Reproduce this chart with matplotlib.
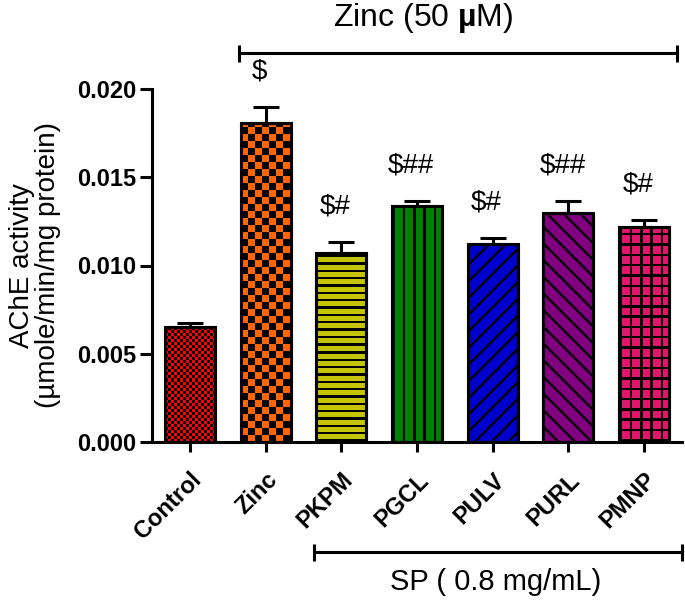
import matplotlib
matplotlib.use('Agg')
import matplotlib.pyplot as plt
import numpy as np
from matplotlib.lines import Line2D
from matplotlib.colors import to_rgba

categories = ['Control', 'Zinc', 'PKPM', 'PGCL', 'PULV', 'PURL', 'PMNP']
means = [0.00652, 0.01807, 0.01071, 0.01337, 0.01122, 0.01297, 0.01218]
sems = [0.00022, 0.00091, 0.00062, 0.00028, 0.00034, 0.00068, 0.00040]
marks = ['', '$', '$#', '$##', '$#', '$##', '$#']
colors = ['#ff0000', '#ff6600', '#c4c400', '#008000', '#0000cc', '#800080', '#e0156b']
yticks = [0.000, 0.005, 0.010, 0.015, 0.020]
top_label = 'Zinc (50 $\\mathbf{µ}$M)'
bottom_label = 'SP ( 0.8 mg/mL)'
ylabel = 'AChE activity\n(µmole/min/mg protein)'

plt.rcParams['font.family'] = ['Liberation Sans', 'DejaVu Sans']
plt.rcParams['mathtext.fontset'] = 'custom'
plt.rcParams['mathtext.rm'] = 'Liberation Sans'
plt.rcParams['mathtext.bf'] = 'Liberation Sans:bold'
plt.rcParams['hatch.linewidth'] = 1.6

W, H = 685, 600
fig = plt.figure(figsize=(W / 100, H / 100), dpi=100)
ax = fig.add_axes([152 / W, 1 - 442 / H, 530 / W, 353 / H])
x = np.arange(len(categories))
bw = 0.66
hatches = [None, None, None, None, '//', '\\\\', None]
bars = ax.bar(x, means, width=bw, color=colors, edgecolor='black', linewidth=2.2, zorder=2)
for b, h in zip(bars, hatches):
    if h:
        b.set_hatch(h)
ax.set_xlim(-0.5, len(categories) - 0.5)
ax.set_ylim(yticks[0], yticks[-1])
pxx = 530 / len(categories)
pxy = 353 / (yticks[-1] - yticks[0])


def texture(bar, kind, size, color, lw=2.6):
    x0 = bar.get_x(); w = bar.get_width(); h = bar.get_height()
    nx = int(np.ceil(w * pxx)); ny = int(np.ceil(h * pxy))
    cols = np.arange(nx)[None, :] + np.zeros((ny, 1))
    rows = np.arange(ny)[:, None] + np.zeros((1, nx))
    if kind == 'checker':
        mask = ((cols // size + rows // size) % 2 == 0)
    elif kind == 'vstripes':
        mask = np.mod(cols, size) < lw
    elif kind == 'hstripes':
        mask = np.mod(rows, size) < lw
    else:
        mask = (np.mod(cols, size) < lw) | (np.mod(rows, size) < lw)
    img = np.zeros((ny, nx, 4))
    img[...] = to_rgba(color)
    img[mask] = (0, 0, 0, 1)
    im = ax.imshow(img, extent=(x0, x0 + nx / pxx, 0, ny / pxy), origin='lower',
                   aspect='auto', interpolation='nearest', zorder=2.1)
    im.set_clip_path(bar)


texture(bars[0], 'checker', 3, colors[0])
texture(bars[1], 'checker', 7, colors[1])
texture(bars[2], 'hstripes', 7.33, colors[2], lw=2.2)
texture(bars[3], 'vstripes', 10.3, colors[3])
texture(bars[6], 'grid', 10.3, colors[6], lw=2.4)
ax.bar(x, means, width=bw, fill=False, edgecolor='black', linewidth=2.2, zorder=2.2)
ax.set_xlim(-0.5, len(categories) - 0.5)
ax.set_ylim(yticks[0], yticks[-1])

ax.errorbar(x, means, yerr=[np.zeros(len(means)), sems], fmt='none', ecolor='black',
            elinewidth=2.2, capsize=9.5, capthick=2.2, zorder=3)
for xi, m, s, t in zip(x, means, sems, marks):
    if t:
        ax.text(xi - 0.08, m + s + 0.002, t, ha='center', va='center', fontsize=20,
                parse_math=False)

ax.set_yticks(yticks)
ax.set_yticklabels([f'{v:.3f}' for v in yticks], fontweight='bold', fontsize=17)
ax.set_xticks(x)
ax.set_xticklabels(categories, rotation=45, ha='right', rotation_mode='anchor',
                   fontweight='bold', fontsize=17)
ax.tick_params(axis='y', length=8.5, width=2.2, pad=3)
ax.tick_params(axis='x', length=7, width=2.2, pad=12)
for sp in ['top', 'right']:
    ax.spines[sp].set_visible(False)
for sp in ['left', 'bottom']:
    ax.spines[sp].set_linewidth(2.2)
ax.set_ylabel(ylabel, fontsize=20, linespacing=1.0, labelpad=11)


def fx(px):
    return px / W


def fy(py):
    return 1 - py / H


def bracket(x1, x2, y):
    fig.add_artist(Line2D([fx(x1), fx(x2)], [fy(y), fy(y)], color='black', lw=2.2,
                          transform=fig.transFigure, solid_capstyle='butt'))
    for xe in (x1, x2):
        fig.add_artist(Line2D([fx(xe), fx(xe)], [fy(y - 8.5), fy(y + 8.5)], color='black',
                              lw=2.2, transform=fig.transFigure, solid_capstyle='butt'))


bracket(239, 677, 53)
fig.text(fx(423), fy(18), top_label, ha='center', va='center', fontsize=23)
bracket(314, 682, 552)
fig.text(fx(496), fy(582), bottom_label, ha='center', va='center', fontsize=21)

fig.savefig('out.png', dpi=100)
